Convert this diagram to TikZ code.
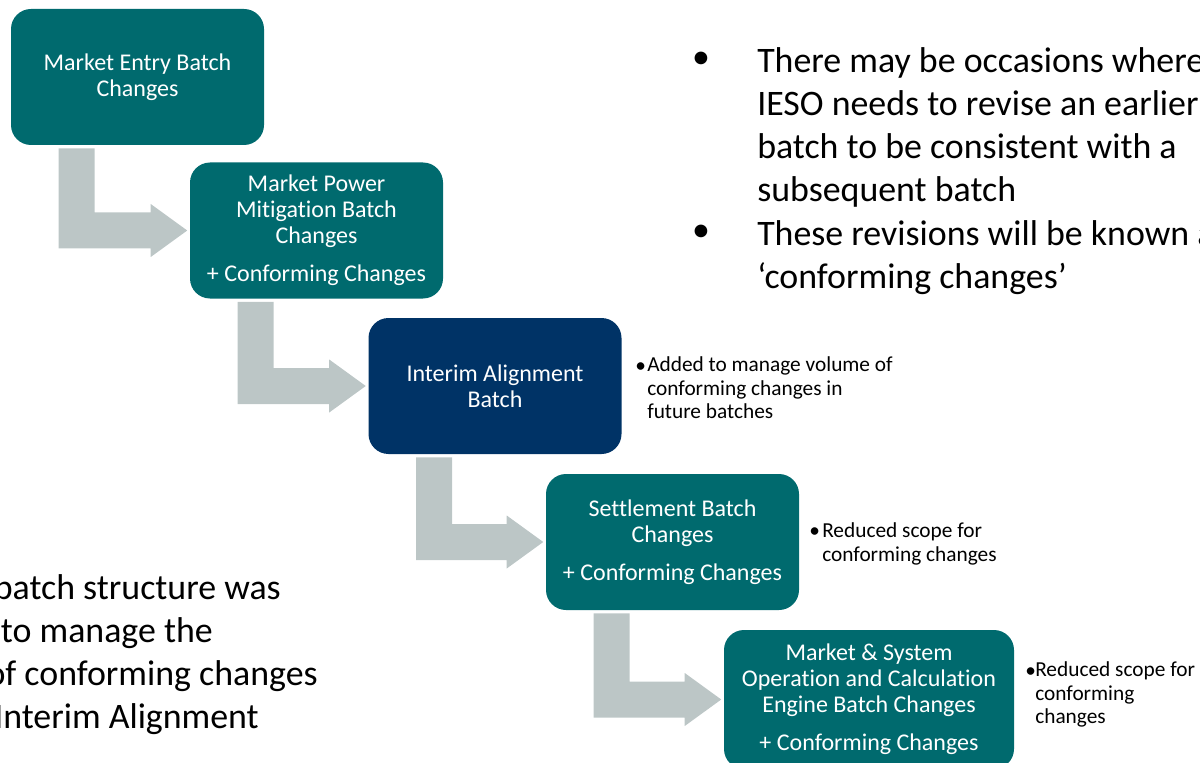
\documentclass[tikz,border=0pt]{standalone}
\usepackage{fontspec}
\setmainfont{Carlito}[RawFeature={-liga;-clig;-calt;-dlig}]
\usetikzlibrary{calc}

\definecolor{batchteal}{RGB}{0,106,110}
\definecolor{batchnavy}{RGB}{0,51,102}
\definecolor{flowgray}{RGB}{188,198,198}

\tikzset{
  batch/.style={fill=batchteal, rounded corners=15pt, text=white, align=center,
    minimum width=189.75pt, minimum height=102pt, inner sep=2pt,
    font=\fontsize{18}{19.5}\selectfont},
  flow/.style={fill=flowgray},
  note/.style={anchor=base west, align=left, inner sep=0pt,
    font=\fontsize{16}{17.5}\selectfont},
  bigtext/.style={anchor=base west, align=left, inner sep=0pt,
    font=\fontsize{26.9}{32.25}\selectfont},
  bigline/.style={anchor=base east, inner sep=0pt,
    font=\fontsize{26.9}{32.25}\selectfont},
}

\begin{document}
\begin{tikzpicture}[x=0.75pt,y=0.75pt,yscale=-1,xscale=1]
\useasboundingbox (0,0) rectangle (1200,763);
\clip (0,0) rectangle (1200,763);

%Rounded Rect: batches
\node[batch] (entry) at (137.5,77) {Market Entry Batch\\Changes};
\node[batch] (mitigation) at (316.5,230.5) {Market Power\\Mitigation Batch\\Changes\\[9pt]+ Conforming Changes};
\node[batch, fill=batchnavy] (interim) at (495,386) {Interim Alignment\\Batch};
\node[batch] (settlement) at (672.5,542) {Settlement Batch\\Changes\\[9pt]+ Conforming Changes};
\node[batch, minimum width=217.5pt, minimum height=104.25pt] (engine) at (869,699.5) {Market \& System\\Operation and Calculation\\Engine Batch Changes\\[9pt]+ Conforming Changes};

%Shape: Bent Arrows
\foreach \from/\to in {entry/mitigation, mitigation/interim, interim/settlement, settlement/engine}{
  \coordinate (stem) at ($(\from.south west)+(48,3)$);
  \coordinate (tip) at ($(\to.west)+(-2.5,0)$);
  \fill[flow] (stem) -- ++(36,0) |- ($(tip)+(-36.5,-18)$) -- ++(0,-8.5) -- (tip)
    -- ($(tip)+(-36.5,26.5)$) -- ++(0,-8.5) -| (stem) -- cycle;
}

%Text: side notes (anchored at the last line)
\node[note] (dotinterim) at (635,372) {\textbullet};
\node[note] (noteinterim) at (647,418.6) {Added to manage volume of\\conforming changes in\\future batches};
\node[note] (dotsettle) at (809,537) {\textbullet};
\node[note] (notesettle) at (822,561) {Reduced scope for\\conforming changes};
\node[note] (dotengine) at (1025,677) {\textbullet};
\node[note] (noteengine) at (1035,723.6) {Reduced scope for\\conforming\\changes};

%Text: right list (anchored at the last line)
\node[bigline, anchor=center] (dotoccasion) at (701,60) {\textbullet};
\node[bigtext] (occasion) at (757,202) {There may be occasions where\\IESO needs to revise an earlier\\batch to be consistent with a\\subsequent batch};
\node[bigline, anchor=center] (dotrevision) at (701,233) {\textbullet};
\node[bigtext] (revision) at (757,288) {These revisions will be known as\\‘conforming changes’};

%Text: left lines
\node[bigline] (structure) at (281,599) {batch structure was};
\node[bigline] (manage) at (213,642) {to manage the};
\node[bigline] (volume) at (318,685) {of conforming changes};
\node[bigline] (alignment) at (259,728) {Interim Alignment};
\end{tikzpicture}
\end{document}
